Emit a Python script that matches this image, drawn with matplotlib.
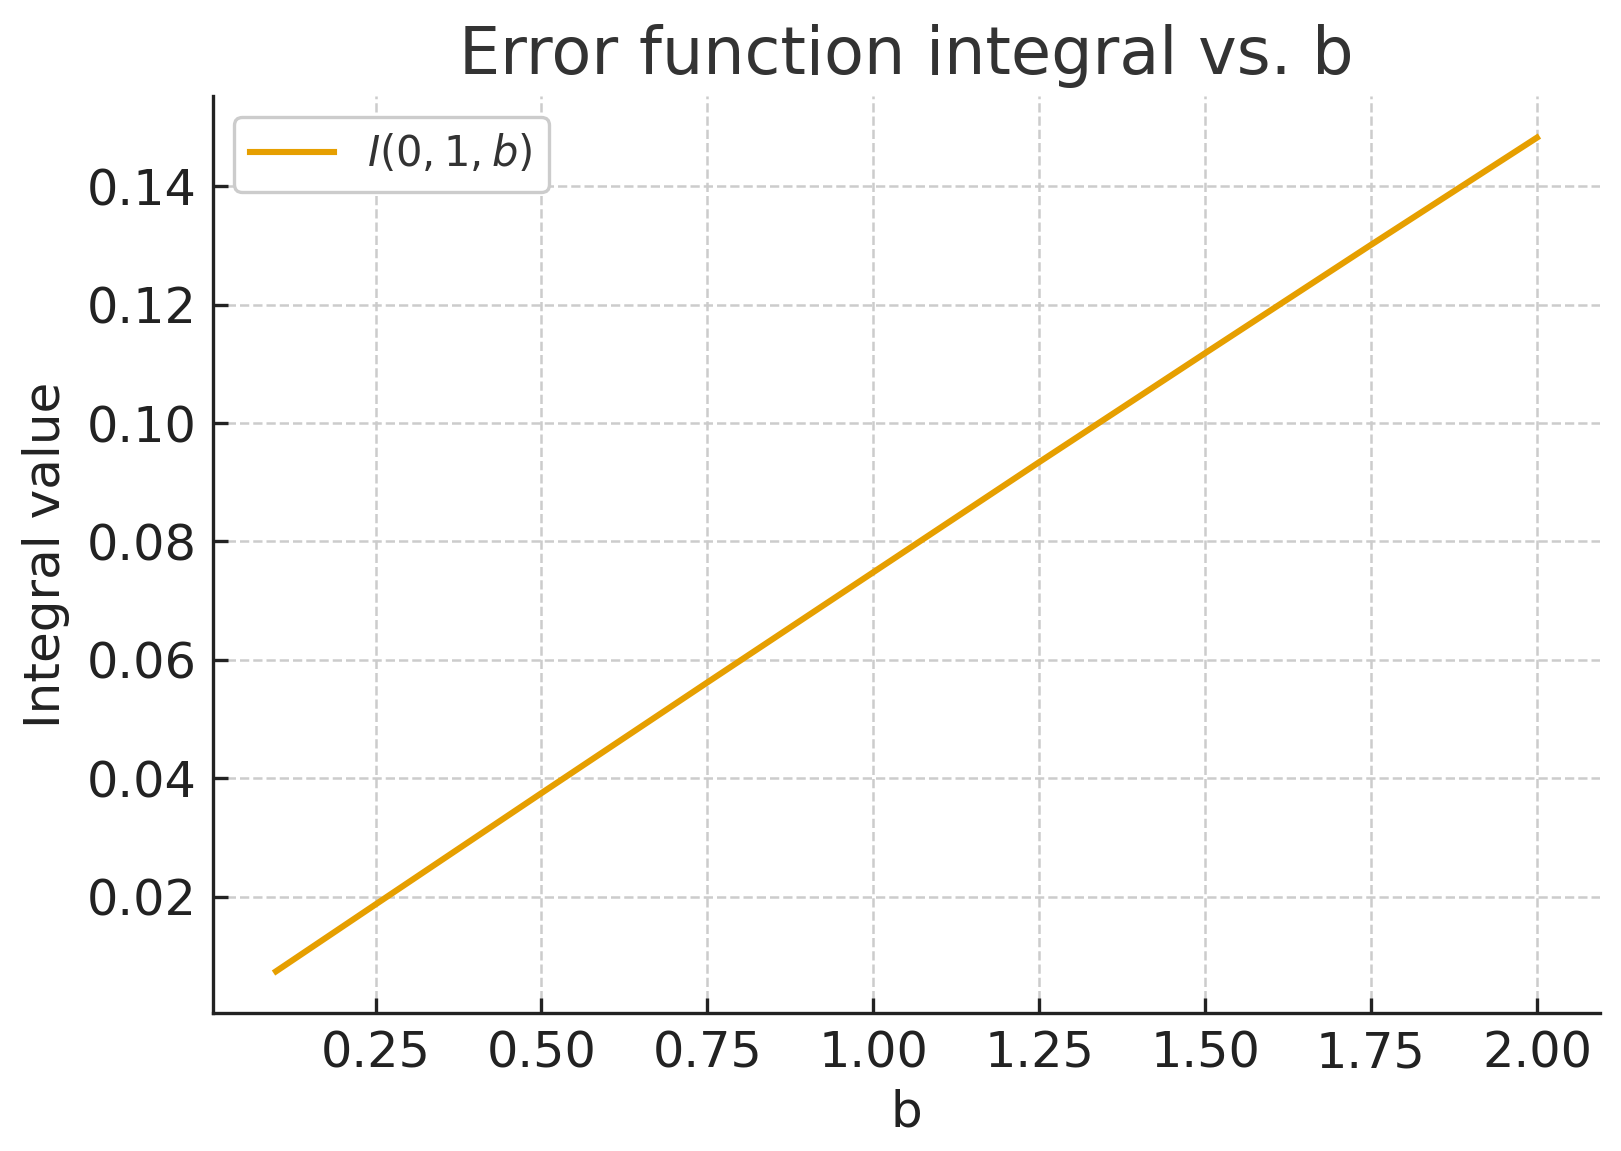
import matplotlib
matplotlib.use("Agg")
import matplotlib.pyplot as plt

b_values = [0.1, 0.25, 0.5, 0.75, 1.0, 1.25, 1.5, 1.75, 2.0]
integral_values = [0.0074, 0.0187, 0.0375, 0.0562, 0.0748, 0.0934, 0.1118, 0.1301, 0.1482]
series_label = r"$I(0, 1, b)$"
title = "Error function integral vs. b"
xlabel = "b"
ylabel = "Integral value"

plt.rcParams['font.family'] = ['DejaVu Sans']

fig = plt.figure(figsize=(16.21 / 2, 11.51 / 2), dpi=200)
ax = fig.add_axes([0.1314, 0.1199, 0.987 - 0.1314, 0.9166 - 0.1199])

ax.plot(b_values, integral_values, color="#E69F00", linewidth=2.2, label=series_label)

ax.set_title(title, fontsize=23.5, color="#333333", pad=8)
ax.set_xlabel(xlabel, fontsize=18, color="#222222", labelpad=4)
ax.set_ylabel(ylabel, fontsize=18, color="#222222", labelpad=6)

ax.set_xticks([0.25, 0.5, 0.75, 1.0, 1.25, 1.5, 1.75, 2.0])
ax.set_yticks([0.02, 0.04, 0.06, 0.08, 0.10, 0.12, 0.14])
ax.xaxis.set_major_formatter(matplotlib.ticker.FormatStrFormatter("%.2f"))
ax.yaxis.set_major_formatter(matplotlib.ticker.FormatStrFormatter("%.2f"))

ax.tick_params(direction="in", length=5.5, width=1.2, labelsize=17.8,
               colors="#222222", pad=6)
for side in ["top", "right"]:
    ax.spines[side].set_visible(False)
for side in ["left", "bottom"]:
    ax.spines[side].set_linewidth(1.2)
    ax.spines[side].set_color("#222222")

ax.grid(True, linestyle="--", color="#cccccc", linewidth=0.9)
ax.set_axisbelow(True)

leg = ax.legend(loc="upper left", fontsize=15, frameon=True, fancybox=True,
                edgecolor="#cccccc", framealpha=1.0, handlelength=2.0,
                borderaxespad=0.5)
leg.get_frame().set_linewidth(1.2)
for t in leg.get_texts():
    t.set_color("#333333")

fig.savefig("out.png", dpi=200)
